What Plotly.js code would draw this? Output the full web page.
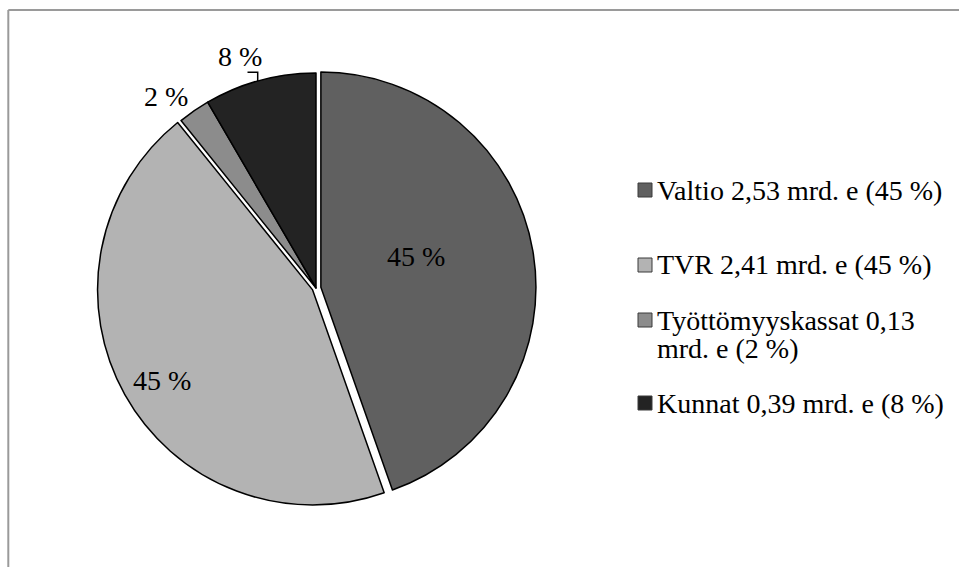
<!DOCTYPE html>
<html><head><meta charset="utf-8">
<script src="https://cdn.plot.ly/plotly-3.0.1.min.js"></script>
<style>html,body{margin:0;padding:0;background:#fff}#chart{width:959px;height:567px}</style>
</head><body><div id="chart"></div>
<script>
// ---- data ----
const labels = ['Valtio', 'TVR', 'Työttömyyskassat', 'Kunnat'];
const amounts = ['2,53', '2,41', '0,13', '0,39'];          // mrd. e
const shares = [44.6, 44.6, 2.4, 8.4];                      // % of pie
const pctLabels = ['45 %', '45 %', '2 %', '8 %'];
const colors = ['#606060', '#b3b3b3', '#8c8c8c', '#232323'];

// ---- layout helpers ----
const W = 959, H = 567;
const FONT = '"Liberation Serif", "Times New Roman", serif';
const px = x => x / W, py = y => 1 - y / H;
const cx = 316, cy = 288, box = 440;

const pie = {
  type: 'pie', labels: labels, values: shares, text: pctLabels,
  textinfo: 'none',
  sort: false, direction: 'clockwise', rotation: 0,
  pull: [0.023, 0.018, 0, 0],
  marker: {colors: colors, line: {color: '#000', width: 1.5}},
  domain: {x: [px(cx - box / 2), px(cx + box / 2)], y: [py(cy + box / 2), py(cy - box / 2)]},
  showlegend: false, hoverinfo: 'label+percent'
};

const annotations = [], shapes = [];

// ---- data labels (Excel "best fit" placement) ----
const labelPos = [[416, 256], [162, 380], [166, 96], [240, 57]];
pctLabels.forEach((t, i) => annotations.push({
  xref: 'paper', yref: 'paper', x: px(labelPos[i][0]), y: py(labelPos[i][1]),
  xanchor: 'center', yanchor: 'middle', showarrow: false, text: t,
  font: {family: FONT, size: 28, color: '#000'}
}));
// leader line of the "8 %" label
shapes.push({type: 'path', xref: 'paper', yref: 'paper',
  path: 'M' + px(247.5) + ',' + py(72.3) + ' L' + px(257.7) + ',' + py(72.3) + ' L' + px(257.7) + ',' + py(81),
  line: {color: '#000', width: 1.5}});

// ---- manual legend (Excel-like spacing) ----
const rowY = [190, 265, 320, 403];
const lineGap = 28;
labels.forEach((l, i) => {
  const full = l + ' ' + amounts[i] + ' mrd. e (' + pctLabels[i] + ')';
  const lines = full.length > 28 ? [l + ' ' + amounts[i], 'mrd. e (' + pctLabels[i] + ')'] : [full];
  lines.forEach((t, k) => annotations.push({
    xref: 'paper', yref: 'paper', x: px(655), y: py(rowY[i] + k * lineGap),
    xanchor: 'left', yanchor: 'middle', showarrow: false, text: t,
    font: {family: FONT, size: 28, color: '#000'}
  }));
  shapes.push({type: 'rect', xref: 'paper', yref: 'paper',
    x0: px(638), x1: px(652), y0: py(rowY[i] + 7), y1: py(rowY[i] - 7),
    fillcolor: colors[i], line: {color: '#3a3a3a', width: 1}});
});
// chart frame (top + left)
shapes.push({type: 'line', xref: 'paper', yref: 'paper', x0: px(8.3), x1: px(8.3), y0: 0, y1: py(10), line: {color: '#9a9a9a', width: 2}});
shapes.push({type: 'line', xref: 'paper', yref: 'paper', x0: px(8.3), x1: 1, y0: py(10), y1: py(10), line: {color: '#9a9a9a', width: 2}});

const layout = {
  width: W, height: H, margin: {l: 0, r: 0, t: 0, b: 0},
  paper_bgcolor: '#fff', showlegend: false,
  font: {family: FONT, size: 28, color: '#000'},
  annotations: annotations, shapes: shapes
};
Plotly.newPlot('chart', [pie], layout, {displayModeBar: false});
</script>
</body></html>
